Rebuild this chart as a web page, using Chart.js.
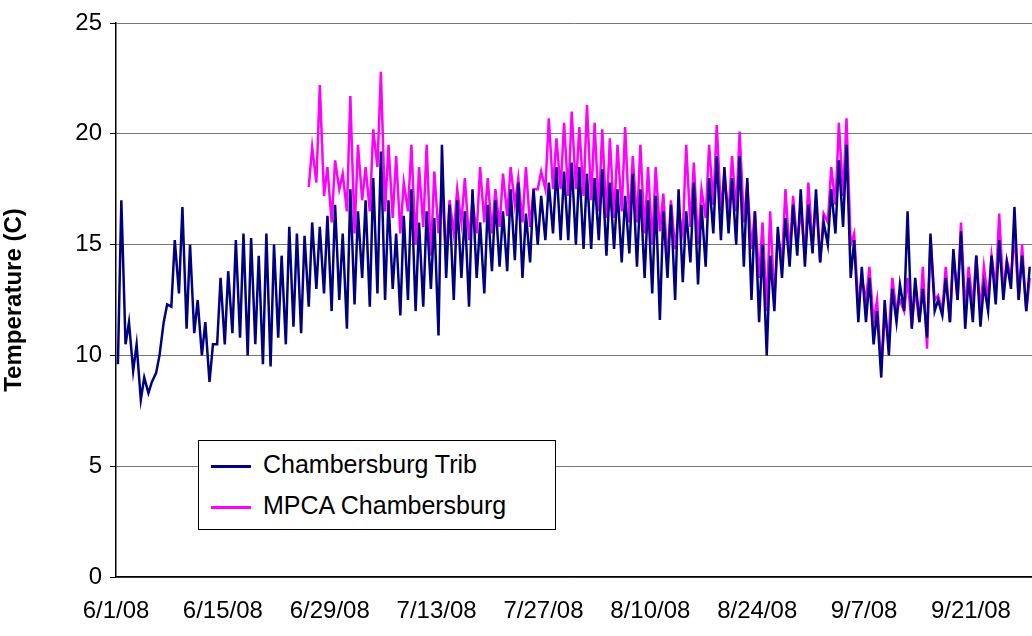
<!DOCTYPE html>
<html>
<head>
<meta charset="utf-8">
<script src="https://cdn.jsdelivr.net/npm/chart.js@4"></script>
<style>
body { margin: 0; background: #fff; }
.wrap { position: relative; width: 1032px; height: 636px; }
.legend { position: absolute; left: 198px; top: 440px; width: 356px; height: 88px; border: 1px solid #000; background: #fff;
  font-family: "Liberation Sans", Arial, sans-serif; font-size: 25px; }
.legend div { position: absolute; left: 12px; }
.legend span { display: inline-block; width: 40px; height: 2.5px; vertical-align: middle; margin-right: 12px; }
</style>
</head>
<body>
<div class="wrap">
<canvas id="chart" width="1032" height="636"></canvas>
<div class="legend">
  <div style="top:9px"><span style="background:#000080"></span>Chambersburg Trib</div>
  <div style="top:50px"><span style="background:#ff00ff"></span>MPCA Chambersburg</div>
</div>
</div>
<script>
let tickLabels = ["6/1/08", "6/15/08", "6/29/08", "7/13/08", "7/27/08", "8/10/08", "8/24/08", "9/7/08", "9/21/08"]

// daily max / min, day 0 = 6/1/08
let tribMax = [17,11.5,10.5,9,8.8,10,12.3,15.2,16.7,15,
    12.5,11.5,10.5,13.5,13.8,15.2,15.5,15.3,14.5,15.5,
    15,14.5,15.8,15.5,15.4,16,15.8,16.3,16.8,15.5,
    17.5,16.5,17,18,19.2,17,15.5,16.3,17.5,16,
    16.5,16.2,19.5,16.8,17,16.5,17.5,16,16.8,17,
    16.5,17.5,17.8,16.4,17.5,17.2,17.8,18.5,18.3,18.7,
    18.5,18.2,18,18.4,17.8,17.5,17.2,18.2,17.5,17,
    17.2,16.5,16.8,17.5,16.5,17.8,16.8,18,19,18.5,
    18,19,18,16.5,15,14.5,15.8,16.2,16.8,17.5,
    16.8,17.5,16,17.5,18.8,19.5,15.2,14,13.5,12,
    12.5,13,13.2,16.5,13.5,13,15.5,12.5,13.5,14.8,
    15.6,13.5,14.5,13.2,14.5,15.2,14.2,16.7,14.5,14]
let tribMin = [9.6,10.5,9.3,8,8.3,9.2,11.5,12.2,12.8,11.2,
    11,10,8.8,10.5,10.5,11,10.8,10,10.5,9.6,
    9.5,10.8,10.5,11.3,11,12.2,13,12.8,12,12.5,
    11.2,12.3,13.5,12.2,12.8,12.5,13,11.8,12.5,12,
    12.2,13,10.9,13.5,12.5,13.5,12.2,13.5,12.8,13.8,
    14,13.8,14.3,13.5,14.2,15,15.2,15.5,15.2,15.2,
    15,14.8,14.8,15.2,14.5,14.8,14.2,14.6,14,13.5,
    12.8,11.6,13.5,12.5,13.3,14.2,13.2,14,15.5,15.2,
    15.5,15,14,12.5,11.5,10,12,13.5,14,14.5,
    14,14.6,14.2,15,15.5,15.8,13.5,11.5,11.5,10.5,
    9,10,11.5,12,11.2,11.5,10.8,12,11.8,11.5,
    12.5,11.2,11.5,11.3,12,12.3,12.5,13,12.5,12]
let mpcaStart = 25
let mpcaMax = [19.4,22.2,18.5,18.8,18.2,
    21.7,19.5,18.5,20.2,22.8,19.5,19,17.8,19.5,18.5,
    19.5,18.3,17.5,17,17.5,18,17,18.5,18,17.5,
    18.2,18.5,18,18.5,17.5,18.3,20.7,19.8,20.5,21,
    20.3,21.3,20.5,20.2,19.8,19.5,20.3,19,19.5,18.5,
    18.5,17.3,17,16.5,19.5,18.7,17.5,19.5,20.4,18.2,
    19,20.1,17.8,16.5,16,16.5,15.5,17.5,17.2,16.6,
    17.8,17,16.4,18.5,20.5,20.7,15.5,13.5,14,12.5,
    11.5,13.5,12.5,13.5,13,14,15.3,12.7,14,14.5,
    16,14,14.5,14,14.5,16.4,14.3,15.5,15,13.5]
let mpcaMin = [17.6,17.8,17.2,16,17.5,
    16.5,15.5,17,16.5,18.5,16.5,16.2,15.5,16.5,15,
    15.8,14.5,15.5,14.5,15.5,16,15.2,15.5,16,15.5,
    15.8,16.3,16.8,16,15.8,17.5,17.5,17.5,17.5,17.2,
    17.5,17.2,17,16.5,16.2,16.2,16.5,16,16,15.5,
    15,15.6,14.2,14.8,15.5,15.8,15,16.2,16.8,16.5,
    16.3,16.5,16,14.8,13.5,12,12.5,14.2,14.5,15,
    14.5,15,14.2,16,16.8,17.2,15,12.2,12.5,11.5,
    9.5,11,12,12,11.3,11.5,10.3,12.5,12,11.5,
    12.5,12,12.2,12,12.5,13,12.8,13.5,12.5,12]

let toPoints = (mins, maxs, start) => {
    let pts = []
    mins.forEach((v, i) => {
        pts.push({ x: start + i + 0.25, y: v })
        pts.push({ x: start + i + 0.7, y: maxs[i] })
    })
    return pts
}

let font = { family: "'Liberation Sans', Arial, sans-serif", size: 24 }
new Chart("chart", {
    type: 'line',
    data: {
        datasets: [{
            data: toPoints(tribMin, tribMax, 0),
            borderColor: '#000080', borderWidth: 2.5, pointRadius: 0, tension: 0
        }, {
            data: toPoints(mpcaMin, mpcaMax, mpcaStart),
            borderColor: '#ff00ff', borderWidth: 2.5, pointRadius: 0, tension: 0
        }]
    },
    options: {
        responsive: false, animation: false,
        layout: { padding: { top: 23, right: 0, left: 0, bottom: 0 } },
        plugins: { legend: { display: false }, tooltip: { enabled: false } },
        scales: {
            x: {
                type: 'linear', min: 0, max: 120,
                afterFit: s => { s.height = 59 },
                afterBuildTicks: s => { s.ticks = tickLabels.map((t, i) => ({ value: i * 14 })) },
                ticks: { color: '#000', font: font, maxRotation: 0, autoSkip: false, padding: 14,
                    callback: (v) => tickLabels[v / 14] },
                grid: { display: false, drawTicks: true, tickLength: 6, tickColor: '#000' },
                border: { color: '#000', width: 1.5 }
            },
            y: {
                min: 0, max: 25,
                afterFit: s => { s.width = 116 },
                ticks: { stepSize: 5, color: '#000', font: font, padding: 8 },
                grid: { color: '#777', tickLength: 6, tickColor: '#000' },
                border: { color: '#000', width: 1.5 },
                title: { display: true, text: 'Temperature (C)', color: '#000', padding: { top: 0, bottom: 4 },
                    font: { family: font.family, size: 24, weight: 'bold' } }
            }
        }
    }
})
</script>
</body>
</html>
